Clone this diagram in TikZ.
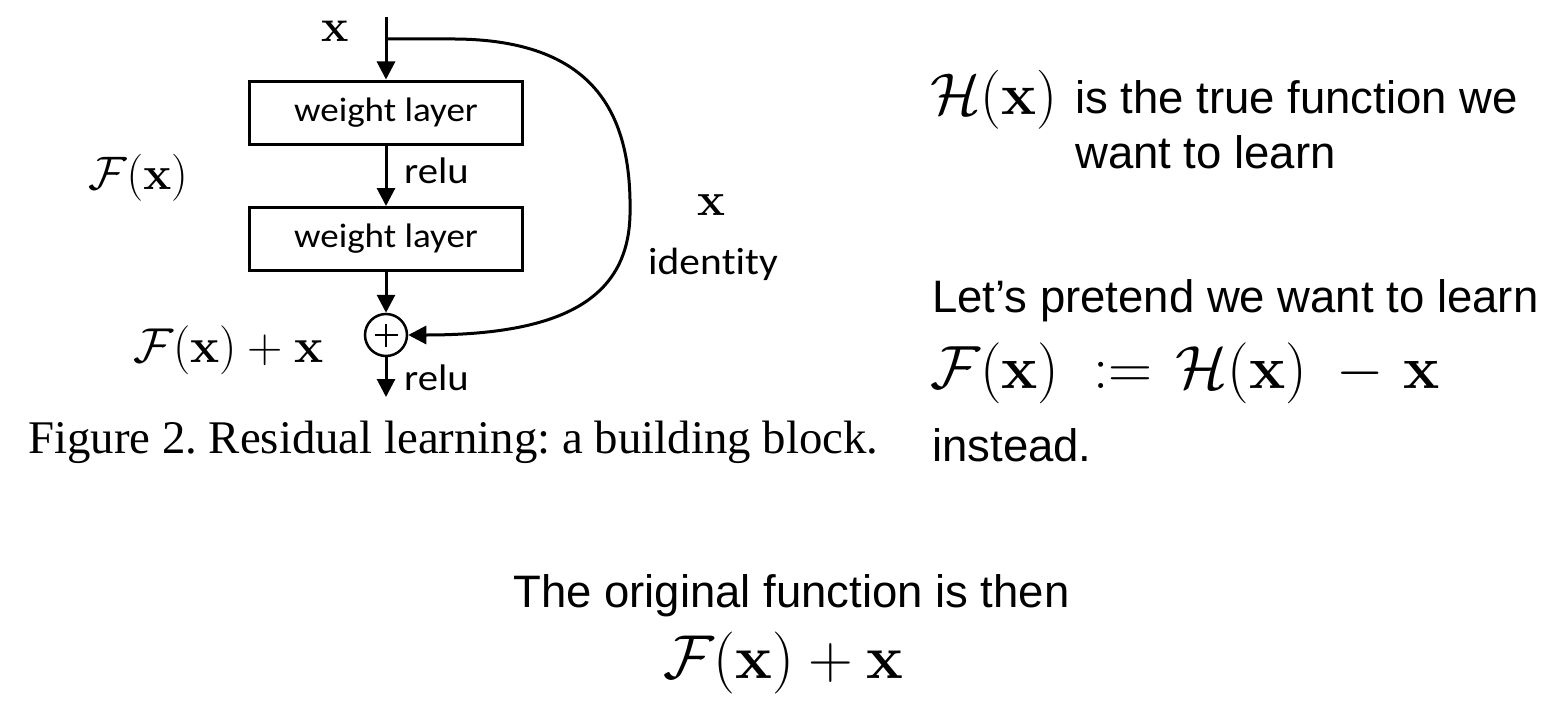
\RequirePackage{fix-cm}
\documentclass[tikz,border=0pt]{standalone}
\usepackage[no-math]{fontspec}
\usepackage{graphicx}
\setmainfont{Liberation Sans}
\newfontfamily\calibri[Ligatures={NoCommon}]{Carlito}
\newfontfamily\timesfont{Liberation Serif}
\frenchspacing
\usetikzlibrary{arrows.meta}
\usetikzlibrary{positioning}
\tikzset{wbox/.style = {draw, line width = 3pt, minimum width = 273pt, minimum height = 63pt, inner sep = 0,
                        font = \calibri\fontsize{34}{40}\selectfont}}
\tikzset{arr/.style = {line width = 3pt, -{Triangle[length=18pt, width=18pt]}}}
\tikzset{lbl/.style = {inner sep = 0, anchor = base west}}
\tikzset{sumnode/.style = {circle, draw, line width = 2.5pt, minimum size = 42pt, inner sep = 0,
                           path picture = {\draw [line width = 2.5pt] ([xshift=-11.5pt]path picture bounding box.center) -- ([xshift=11.5pt]path picture bounding box.center);
                                           \draw [line width = 2.5pt] ([yshift=-11.5pt]path picture bounding box.center) -- ([yshift=11.5pt]path picture bounding box.center);}}}
\newcommand{\wide}[2]{\scalebox{#1}[1]{#2}}
\newcommand{\pts}[1]{\fontsize{#1}{1.2\dimexpr #1pt\relax}\selectfont}

\begin{document}
\begin{tikzpicture}[x = 1pt, y = -1pt]
  \useasboundingbox (0, 0) rectangle (1560, 725);

  % building block
  \node [wbox] (w1) at (386, 112.5) {\wide{1.09}{weight layer}};
  \node [wbox] (w2) at (386, 239) {\wide{1.09}{weight layer}};
  \node [sumnode] (sum) at (386, 335) {};
  \coordinate (in) at (386, 17);
  \coordinate (br) at (386, 39);
  \coordinate (out) at (386, 397);

  \draw [arr] (in) -- (w1.north);
  \draw [arr] (w1.south) -- (w2.north);
  \draw [arr] (w2.south) -- (sum.north);
  \draw [arr] (sum.south) -- (out);
  \draw [arr] (br) -- (455, 39) .. controls (600, 40) and (632, 120) .. (630, 215)
              .. controls (628, 300) and (560, 335) .. (sum.east);

  \node [lbl, font = \pts{46}] (xin) at (321, 42) {$\mathbf{x}$};
  \node [lbl, font = \calibri\pts{37}] (relua) at (404, 183) {\wide{1.1}{relu}};
  \node [lbl, font = \calibri\pts{37}] (relub) at (404, 390) {\wide{1.1}{relu}};
  \node [lbl, font = \pts{47}] (fx) at (88, 189) {$\mathcal{F}(\mathbf{x})$};
  \node [lbl, font = \pts{49}] (fxx) at (133, 362) {$\mathcal{F}(\mathbf{x}) + \mathbf{x}$};
  \node [lbl, font = \pts{47}] (xid) at (697, 215) {$\mathbf{x}$};
  \node [lbl, font = \calibri\pts{38}] (ident) at (648, 274) {\wide{1.09}{iden\kern0pt t\kern0pt i\kern0pt ty}};
  \node [lbl, font = \timesfont\pts{46.8}] (caption) at (28, 453) {Figure 2. Residual learning: a building block.};

  % explanation
  \node [lbl, font = \pts{59}] (hx) at (930, 114) {$\mathcal{H}(\mathbf{x})$};
  \node [lbl, font = \pts{45.5}] (truef) at (1075, 113) {is the true function we};
  \node [lbl, font = \pts{45.5}] (learn) at (1075, 168) {want to learn};
  \node [lbl, font = \pts{45.5}] (pretend) at (932, 312) {Let’s pretend we want to learn};
  \node [lbl, font = \pts{61}] (defn) at (930, 388) {$\mathcal{F}(\mathbf{x})\hspace{0.28em}:=\hspace{0.1em}\mathcal{H}(\mathbf{x})\hspace{0.25em}-\hspace{0.1em}\mathbf{x}$};
  \node [lbl, font = \pts{45.5}] (instead) at (932, 461) {instead.};
  \node [lbl, font = \pts{45.5}] (orig) at (513, 607) {The original function is then};
  \node [lbl, font = \pts{62}] (result) at (663, 678) {$\mathcal{F}(\mathbf{x}) + \mathbf{x}$};
\end{tikzpicture}
\end{document}
